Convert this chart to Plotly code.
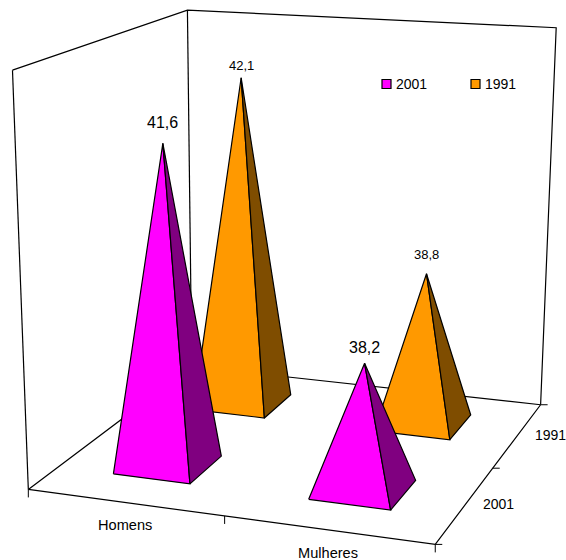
import numpy as np
import plotly.graph_objects as go

# ---- chart data ----
categories = ["Homens", "Mulheres"]
series_names = ["2001", "1991"]
values_2001 = [41.6, 38.2]
values_1991 = [42.1, 38.8]
label_sizes = {"2001": 16, "1991": 13}
label_lift_2001 = [10, 5]
label_lift_1991 = [3, 10]
face_colors = {"2001": "#FF00FF", "1991": "#FF9900"}
side_colors = {"2001": "#800080", "1991": "#7F4D00"}
z_min, z_max = 36.0, 43.0
half_x, half_y = 0.2, 0.2
shift_x, shift_y = -0.006, 0.02

# ---- perspective camera calibrated on the corners of the chart box ----
box_3d = [(0, 0, 0), (2, 0, 0), (2, 2, 0), (0, 2, 0), (0, 0, 1), (0, 2, 1), (2, 2, 1)]
box_px = [(29, 489), (435, 545), (541, 404), (191, 367), (12, 70), (188, 10), (556, 28)]
A = []
for (X, Y, Z), (u, v) in zip(box_3d, box_px):
    A.append([X, Y, Z, 1, 0, 0, 0, 0, -u * X, -u * Y, -u * Z, -u])
    A.append([0, 0, 0, 0, X, Y, Z, 1, -v * X, -v * Y, -v * Z, -v])
P = np.linalg.svd(np.array(A, float))[2][-1].reshape(3, 4)


def project(x, y, value):
    """x and y in category units, value on the value axis."""
    h = P @ np.array([x, y, (value - z_min) / (z_max - z_min), 1.0])
    return float(h[0] / h[2]), float(h[1] / h[2])


def path(points):
    px = [project(*p) for p in points]
    return [p[0] for p in px], [p[1] for p in px]


fig = go.Figure()


def line(points, width=1.2):
    xs, ys = path(points)
    fig.add_trace(go.Scatter(x=xs, y=ys, mode="lines", line=dict(color="black", width=width),
                             hoverinfo="skip", showlegend=False))


# ---- walls and floor ----
line([(0, 0, z_max), (0, 2, z_max), (2, 2, z_max), (2, 2, z_min)])
line([(0, 0, z_min), (0, 0, z_max)])
line([(0, 2, z_min), (0, 2, z_max)])
line([(0, 0, z_min), (0, 2, z_min), (2, 2, z_min), (2, 0, z_min), (0, 0, z_min)])

# ---- axis ticks ----
for k in (0, 1, 2):
    u, v = project(k, 0, z_min)
    fig.add_trace(go.Scatter(x=[u, u], y=[v, v + 8], mode="lines", line=dict(color="black", width=1),
                             hoverinfo="skip", showlegend=False))
    u, v = project(2, k, z_min)
    fig.add_trace(go.Scatter(x=[u, u + 7], y=[v, v], mode="lines", line=dict(color="black", width=1),
                             hoverinfo="skip", showlegend=False))


def pyramid(cx, cy, top, name, lift):
    cx += shift_x
    cy += shift_y
    base = [(cx - half_x, cy - half_y, z_min), (cx + half_x, cy - half_y, z_min),
            (cx + half_x, cy + half_y, z_min)]
    apex = (cx, cy, top)
    for pts, col in (([base[0], base[1], apex, base[0]], face_colors[name]),
                     ([base[1], base[2], apex, base[1]], side_colors[name])):
        xs, ys = path(pts)
        fig.add_trace(go.Scatter(x=xs, y=ys, mode="lines", fill="toself", fillcolor=col,
                                 line=dict(color="black", width=1.2), hoverinfo="skip", showlegend=False))
    u, v = project(cx, cy, top)
    txt = f"{top}".replace(".", ",")
    fig.add_annotation(x=u, y=v, text=txt, showarrow=False, yanchor="bottom", yshift=lift,
                       font=dict(family="Liberation Sans", size=label_sizes[name], color="black"))


# back row first, so that the front row covers it
for i in (0, 1):
    pyramid(i + 0.5, 1.5, values_1991[i], "1991", label_lift_1991[i])
for i in (0, 1):
    pyramid(i + 0.5, 0.5, values_2001[i], "2001", label_lift_2001[i])

# ---- category labels ----
tick_font = dict(family="Liberation Sans", size=14, color="black")
cat_font = dict(family="Liberation Sans", size=14.6, color="black")
for i, c in enumerate(categories):
    u, v = project(i + 0.5, 0, z_min)
    fig.add_annotation(x=u, y=v + 23, text=c, showarrow=False, yanchor="middle", font=cat_font)
for i, s in enumerate(series_names):
    u, v = project(2, i + 0.5, z_min)
    fig.add_annotation(x=u + 33, y=v, text=s, showarrow=False, yanchor="middle", font=tick_font)

# ---- legend ----
for name, left in zip(series_names, (382, 471)):
    fig.add_shape(type="rect", x0=left, x1=left + 9, y0=79.5, y1=88.5, fillcolor=face_colors[name],
                  line=dict(color="black", width=1.2))
    fig.add_annotation(x=left + 11.5, y=84, text=name, showarrow=False, xanchor="left", yanchor="middle",
                       font=tick_font)

fig.update_layout(
    width=566, height=560, paper_bgcolor="white", plot_bgcolor="white", showlegend=False,
    margin=dict(l=0, r=0, t=0, b=0),
    xaxis=dict(range=[0, 566], visible=False, fixedrange=True),
    yaxis=dict(range=[560, 0], visible=False, fixedrange=True),
)
fig.write_html("out.html", post_script="document.body.style.margin='0';", config={"displayModeBar": False})
